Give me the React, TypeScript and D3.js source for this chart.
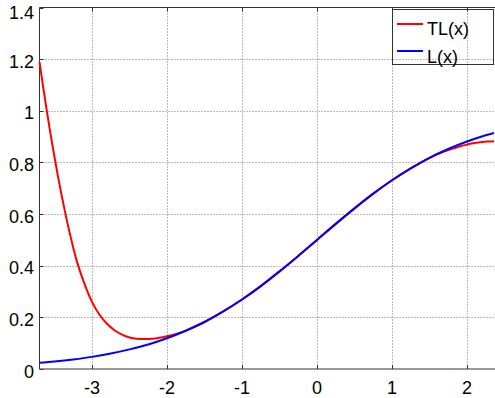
import React from "react";
import * as d3 from "d3";

const W = 495;
const H = 398;

const xTicks = [-3, -2, -1, 0, 1, 2];
const yTicks = [0, 0.2, 0.4, 0.6, 0.8, 1, 1.2, 1.4];
const yTickLabels = ["0", "0.2", "0.4", "0.6", "0.8", "1", "1.2", "1.4"];

const tlX = [-3.7, -3.65, -3.6, -3.55, -3.5, -3.45, -3.4, -3.35, -3.3, -3.25, -3.2, -3.1, -3.0, -2.9, -2.8, -2.7, -2.6, -2.5, -2.4, -2.3, -2.2, -2.1, -2.0, -1.9, -1.8, -1.7, -1.5, -1.25, -1, -0.75, -0.5, -0.25, 0, 0.25, 0.5, 0.75, 1, 1.25, 1.5, 1.6, 1.7, 1.8, 1.9, 2.0, 2.1, 2.2, 2.3, 2.36];
const tlY = [1.188, 1.09, 0.995, 0.905, 0.82, 0.74, 0.665, 0.595, 0.53, 0.47, 0.415, 0.33, 0.26, 0.21, 0.175, 0.15, 0.133, 0.122, 0.117, 0.116, 0.117, 0.121, 0.127, 0.134, 0.143, 0.155, 0.182, 0.223, 0.269, 0.321, 0.378, 0.438, 0.5, 0.562, 0.622, 0.679, 0.731, 0.777, 0.818, 0.831, 0.843, 0.853, 0.862, 0.869, 0.875, 0.879, 0.881, 0.882];

const lX = [-3.7, -3.5, -3.25, -3, -2.75, -2.5, -2.25, -2, -1.75, -1.5, -1.25, -1, -0.75, -0.5, -0.25, 0, 0.25, 0.5, 0.75, 1, 1.25, 1.5, 1.75, 2, 2.25, 2.36];
const lY = [0.024, 0.029, 0.037, 0.047, 0.06, 0.076, 0.095, 0.119, 0.148, 0.182, 0.223, 0.269, 0.321, 0.378, 0.438, 0.5, 0.562, 0.622, 0.679, 0.731, 0.777, 0.818, 0.852, 0.881, 0.905, 0.914];

const seriesNames = ["TL(x)", "L(x)"];
const seriesColors = ["#ff0000", "#0000ff"];

const left = 39.5, right = 494, top = 7.5, bottom = 369;
const FONT = "'Liberation Sans', Arial, Helvetica, sans-serif";

export default function App() {
  const x = d3.scaleLinear().domain([-3.7, 2.36]).range([left, right]);
  const y = d3.scaleLinear().domain([0, 1.4]).range([bottom, top]);
  const line = d3
    .line<[number, number]>()
    .x((d) => x(d[0]))
    .y((d) => y(d[1]))
    .curve(d3.curveCatmullRom.alpha(0.5));
  const tl: [number, number][] = tlX.map((v, i) => [v, tlY[i]]);
  const l: [number, number][] = lX.map((v, i) => [v, lY[i]]);

  return (
    <svg
      width={W}
      height={H}
      style={{ position: "absolute", left: 0, top: 0, background: "#fff" }}
      fontFamily={FONT}
    >
      <rect x={0} y={0} width={W} height={H} fill="#fff" />
      {/* grid */}
      {xTicks.map((t) => (
        <line key={"gx" + t} x1={Math.round(x(t)) + 0.5} x2={Math.round(x(t)) + 0.5} y1={top} y2={bottom}
          stroke="#777" strokeWidth={1} strokeDasharray="1,2" />
      ))}
      {yTicks.slice(1, -1).map((t) => (
        <line key={"gy" + t} x1={left} x2={right} y1={Math.round(y(t)) + 0.5} y2={Math.round(y(t)) + 0.5}
          stroke="#777" strokeWidth={1} strokeDasharray="1,2" />
      ))}
      {/* spines */}
      <line x1={left} x2={right + 1} y1={bottom} y2={bottom} stroke="#333" strokeWidth={1} />
      <line x1={left} x2={right + 1} y1={top} y2={top} stroke="#333" strokeWidth={1} />
      <line x1={left} x2={left} y1={top} y2={bottom} stroke="#333" strokeWidth={1} />
      {/* ticks */}
      {xTicks.map((t) => (
        <g key={"tx" + t}>
          <line x1={Math.round(x(t)) + 0.5} x2={Math.round(x(t)) + 0.5} y1={bottom} y2={bottom - 4} stroke="#333" />
          <line x1={Math.round(x(t)) + 0.5} x2={Math.round(x(t)) + 0.5} y1={top} y2={top + 4} stroke="#333" />
          <text x={x(t)} y={388} fontSize={18} textAnchor="middle" dominantBaseline="central" fill="#000">
            {t}
          </text>
        </g>
      ))}
      {yTicks.map((t, i) => (
        <g key={"ty" + t}>
          <line x1={left} x2={left + 4} y1={Math.round(y(t)) + 0.5} y2={Math.round(y(t)) + 0.5} stroke="#333" />
          <text x={34} y={Math.max(y(t) + 2.5, 13)} fontSize={18} textAnchor="end" dominantBaseline="central" fill="#000">
            {yTickLabels[i]}
          </text>
        </g>
      ))}
      {/* curves */}
      <path d={line(tl) || ""} fill="none" stroke={seriesColors[0]} strokeWidth={2} />
      <path d={line(l) || ""} fill="none" stroke={seriesColors[1]} strokeWidth={2} />
      {/* legend */}
      <rect x={392.5} y={9.5} width={101} height={55} fill="none" stroke="#333" strokeWidth={1} />
      {seriesNames.map((n, i) => (
        <g key={n}>
          <line x1={397} x2={423} y1={24 + i * 27} y2={24 + i * 27} stroke={seriesColors[i]} strokeWidth={2} />
          <text x={427} y={29 + i * 27.5} fontSize={18} dominantBaseline="central" fill="#000">
            {n}
          </text>
        </g>
      ))}
    </svg>
  );
}
